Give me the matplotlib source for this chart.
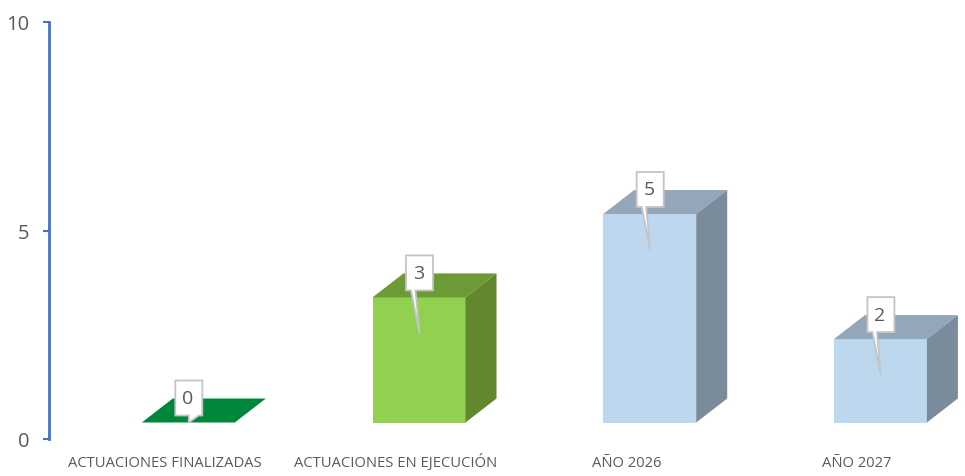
#!/usr/bin/env python3
import matplotlib

matplotlib.use("Agg")
import matplotlib.pyplot as plt
from matplotlib.patches import Polygon

# Data
CATEGORIES = ["ACTUACIONES FINALIZADAS", "ACTUACIONES EN EJECUCIÓN", "AÑO 2026", "AÑO 2027"]
VALUES = [0, 3, 5, 2]
LABELS = ["0", "3", "5", "2"]
Y_TICKS = [0, 5, 10]

# Bar colours: front, top, side
BAR_COLORS = [
    ("#00873C", "#00873C", "#00873C"),
    ("#92D050", "#6C9A36", "#62872F"),
    ("#BDD7EE", "#93A6BA", "#7A8B9C"),
    ("#BDD7EE", "#93A6BA", "#7A8B9C"),
]

# Layout in pixels
W, H = 965, 477
AX_LEFT, AX_BOTTOM, AX_TOP = 48.5, 440, 23
CAT0_PX = 165
CAT_STEP = 230.7
BAR_W = 93
BAR_SHIFT = 23.3
BASE_LIFT = 16.5
DEPTH_X, DEPTH_Y = 31, 24
BOX_W, BOX_H = 27, 35
TEXT_COLOR = "#595959"
AXIS_COLOR = "#4472C4"
LEADER_COLOR = "#C4C4C4"

px_y = (AX_BOTTOM - AX_TOP) / 10.0


def dx(p):
    return p / CAT_STEP


def dy(p):
    return p / px_y


def draw_bar(ax, i, value, colors):
    left = i + dx(BAR_SHIFT - BAR_W / 2)
    right = left + dx(BAR_W)
    low = dy(BASE_LIFT)
    top = low + value
    ox, oy = dx(DEPTH_X), dy(DEPTH_Y)
    front, roof, side = colors
    ax.add_patch(Polygon([(left, low), (right, low), (right, top), (left, top)],
                         fc=front, ec="none", zorder=3))
    ax.add_patch(Polygon([(left, top), (right, top), (right + ox, top + oy), (left + ox, top + oy)],
                         fc=roof, ec="none", zorder=3))
    ax.add_patch(Polygon([(right, low), (right + ox, low + oy), (right + ox, top + oy), (right, top)],
                         fc=side, ec="none", zorder=3))


def draw_callout(ax, i, value, text):
    cx = i + dx(BAR_SHIFT + 0.5)
    top = dy(BASE_LIFT) + value
    # leader drops into the bar, except for the flat zero bar
    tip_y = top - dy(36) if value > 0 else top
    bottom = top + dy(7)
    upper = bottom + dy(BOX_H)
    half = dx(BOX_W / 2)
    if value > 0:
        base_a, base_b = cx - dx(8.5), cx - dx(4)
    else:
        base_a, base_b = cx, cx + dx(10)
    pts = [
        (cx - half, upper), (cx + half, upper), (cx + half, bottom),
        (base_b, bottom), (cx, tip_y), (base_a, bottom), (cx - half, bottom),
    ]
    ax.add_patch(Polygon(pts, fc="white", ec=LEADER_COLOR, lw=1.3, zorder=5,
                         joinstyle="miter", clip_on=False))
    ax.text(cx - dx(1), (upper + bottom) / 2, text, ha="center", va="center",
            fontsize=14, color=TEXT_COLOR, zorder=6)


def main():
    plt.rcParams["font.family"] = ["Open Sans", "DejaVu Sans"]
    fig = plt.figure(figsize=(W / 100, H / 100), dpi=100)
    ax = fig.add_axes([AX_LEFT / W, 1 - AX_BOTTOM / H, 1 - AX_LEFT / W, (AX_BOTTOM - AX_TOP) / H])
    ax.set_xlim((AX_LEFT - CAT0_PX) / CAT_STEP, (W - CAT0_PX) / CAT_STEP)
    ax.set_ylim(0, 10)

    for i, value in enumerate(VALUES):
        draw_bar(ax, i, value, BAR_COLORS[i])
    for i, value in enumerate(VALUES):
        draw_callout(ax, i, value, LABELS[i])

    for name in ("top", "right", "bottom"):
        ax.spines[name].set_visible(False)
    ax.spines["left"].set_color(AXIS_COLOR)
    ax.spines["left"].set_linewidth(2)

    ax.set_yticks(Y_TICKS)
    ax.tick_params(axis="y", length=4.5, width=1.5, color=AXIS_COLOR,
                   labelcolor=TEXT_COLOR, labelsize=14.5, pad=9.5)
    ax.set_xticks(range(len(CATEGORIES)))
    ax.set_xticklabels(CATEGORIES, fontsize=10.6, color=TEXT_COLOR, va="baseline")
    ax.tick_params(axis="x", length=0, pad=19.5)

    fig.savefig("out.png", dpi=100)
    plt.close(fig)


if __name__ == "__main__":
    main()
